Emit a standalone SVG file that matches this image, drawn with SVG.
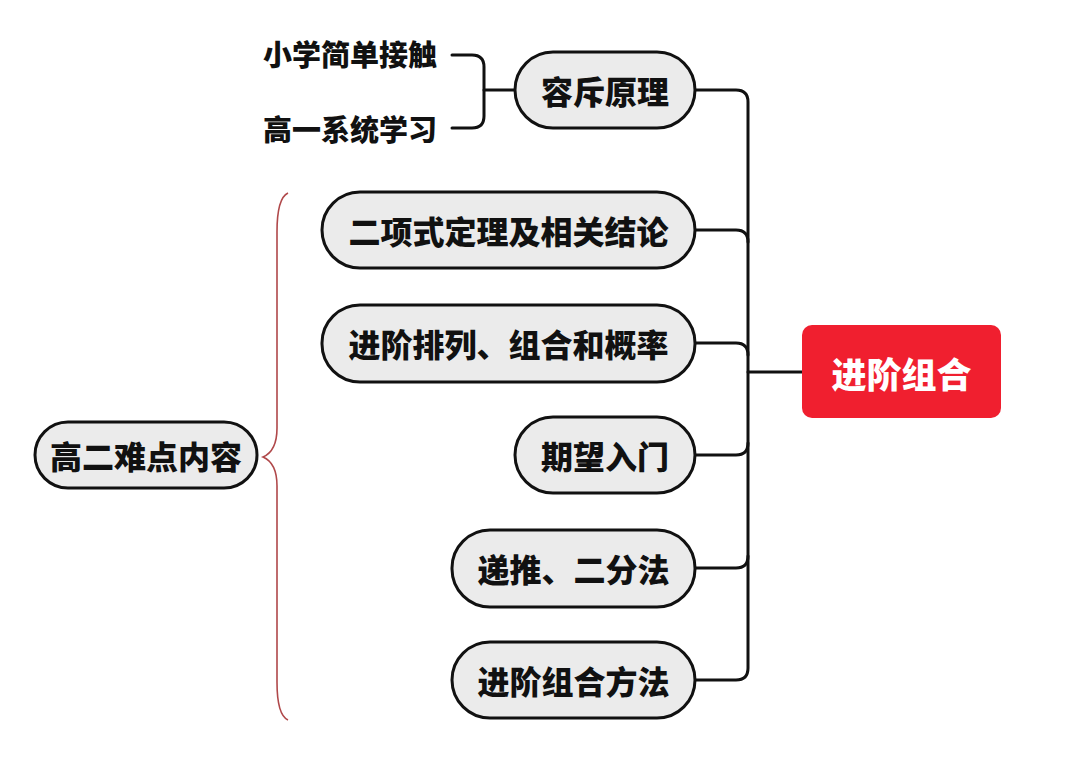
<svg xmlns="http://www.w3.org/2000/svg" width="1080" height="757" viewBox="0 0 1080 757">
  <style>
    .node rect.pill { fill: #ebebeb; stroke: #111; stroke-width: 3; }
    .label { font-family: "Noto Sans CJK SC", "Noto Sans CJK TC", sans-serif; font-weight: 900; fill: #111; dominant-baseline: central; }
    .nodetext { font-size: 32px; text-anchor: middle; }
    .leaf { font-size: 29px; }
    .conn { fill: none; stroke: #111; stroke-width: 3; stroke-linecap: round; stroke-linejoin: round; }
    .brace { fill: none; stroke: #b0484a; stroke-width: 1.6; }
  </style>
  <rect width="1080" height="757" fill="#ffffff"/>

  <g id="connectors">
    <path class="conn" d="M695,90 H736 Q748,90 748,102 V668 Q748,680 736,680 H695"/>
    <path class="conn" d="M695,230 H736 Q748,230 748,242"/>
    <path class="conn" d="M695,343 H736 Q748,343 748,355"/>
    <path class="conn" d="M695,455 H736 Q748,455 748,443"/>
    <path class="conn" d="M695,568 H736 Q748,568 748,556"/>
    <path class="conn" d="M748,372 H802"/>
    <path class="conn" d="M452,55 H472 Q484,55 484,67 V116 Q484,128 472,128 H452"/>
    <path class="conn" d="M484,90 H515"/>
    <path class="brace" d="M288,193 Q277,198 277,232 V428 Q277,451 263,457 Q277,463 277,486 V682 Q277,715 288,720"/>
  </g>

  <g id="root" class="node">
    <rect x="802" y="325" width="199" height="93" rx="10" fill="#f01f2f"/>
    <text class="label" x="901.5" y="372" font-size="35" text-anchor="middle" fill="#ffffff" style="fill:#ffffff">进阶组合</text>
  </g>

  <g id="n-rongchi" class="node">
    <rect class="pill" x="515" y="52" width="180" height="76" rx="38"/>
    <text class="label nodetext" x="605" y="90">容斥原理</text>
  </g>
  <g id="leaf-xiaoxue">
    <text class="label leaf" x="263" y="53">小学简单接触</text>
  </g>
  <g id="leaf-gaoyi">
    <text class="label leaf" x="263" y="128">高一系统学习</text>
  </g>

  <g id="n-erxiangshi" class="node">
    <rect class="pill" x="322" y="192" width="373" height="76" rx="38"/>
    <text class="label nodetext" x="508.5" y="230">二项式定理及相关结论</text>
  </g>
  <g id="n-pailie" class="node">
    <rect class="pill" x="322" y="305" width="373" height="77" rx="38"/>
    <text class="label nodetext" x="508.5" y="343">进阶排列、组合和概率</text>
  </g>
  <g id="n-qiwang" class="node">
    <rect class="pill" x="515" y="417" width="180" height="76" rx="38"/>
    <text class="label nodetext" x="605" y="455">期望入门</text>
  </g>
  <g id="n-ditui" class="node">
    <rect class="pill" x="452" y="530" width="243" height="77" rx="38"/>
    <text class="label nodetext" x="573.5" y="568">递推、二分法</text>
  </g>
  <g id="n-fangfa" class="node">
    <rect class="pill" x="452" y="642" width="243" height="76" rx="38"/>
    <text class="label nodetext" x="573.5" y="680">进阶组合方法</text>
  </g>

  <g id="n-gaoer" class="node">
    <rect class="pill" x="35" y="422" width="222" height="66" rx="33"/>
    <text class="label nodetext" x="146" y="455">高二难点内容</text>
  </g>
</svg>
